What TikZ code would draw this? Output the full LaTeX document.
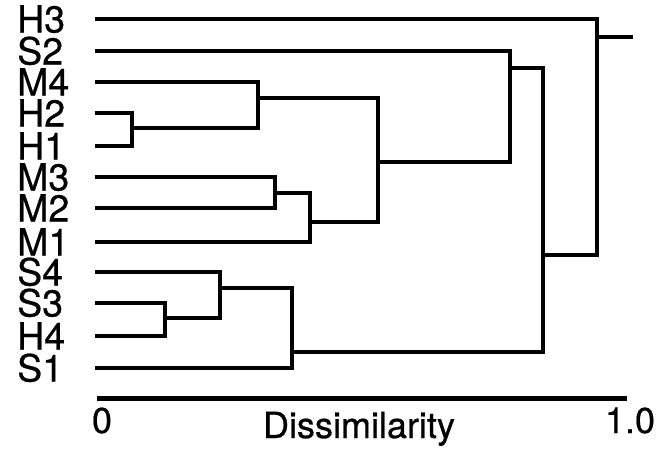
\documentclass[tikz,border=0pt]{standalone}
\usepackage{fontspec}
\setmainfont{TeX Gyre Heros}
\newfontfamily\heavysans{TeX Gyre Heros}[FakeBold=0.6]
\begin{document}
\begin{tikzpicture}[x=1pt,y=-1pt,
  branch/.style={line width=4.5pt,line join=miter,line cap=butt},
  leaflabel/.style={anchor=base west,inner sep=0pt,font=\heavysans\fontsize{37.5}{40}\selectfont},
  axislabel/.style={anchor=base,inner sep=0pt,font=\heavysans\fontsize{36}{38}\selectfont}]
\useasboundingbox (0,0) rectangle (663,451);

% leaf labels
\foreach \name/\row in {H3/19,S2/51,M4/82,H2/113,H1/146,M3/177,M2/208,M1/242,S4/272,S3/303,H4/336,S1/368}{
  \node[leaflabel] (t\name) at (17,\row+13.5) {\name};
  \coordinate (l\name) at (95,\row);
}

% merge points (x = merge height, y = outgoing branch)
\coordinate (nHH)  at (132,128);
\coordinate (nM4)  at (258,98);
\coordinate (nM32) at (275,193);
\coordinate (nM1)  at (310,222);
\coordinate (nA)   at (378,162);
\coordinate (nS2)  at (510,68);
\coordinate (nSH)  at (165,318);
\coordinate (nS4)  at (220,288);
\coordinate (nS1)  at (292,352);
\coordinate (nB)   at (543,255);
\coordinate (nR)   at (597,37);
\coordinate (rootend) at (633,37);

% dendrogram branches
\draw[branch] (lH2) -| (nHH) |- (lH1);
\draw[branch] (lM4) -| (nM4) |- (nHH);
\draw[branch] (lM3) -| (nM32) |- (lM2);
\draw[branch] (nM32) -| (nM1) |- (lM1);
\draw[branch] (nM4) -| (nA) |- (nM1);
\draw[branch] (lS2) -| (nS2) |- (nA);
\draw[branch] (lS3) -| (nSH) |- (lH4);
\draw[branch] (lS4) -| (nS4) |- (nSH);
\draw[branch] (nS4) -| (nS1) |- (lS1);
\draw[branch] (nS2) -| (nB) |- (nS1);
\draw[branch] (lH3) -| (nR) |- (nB);
\draw[branch] (nR) -- (rootend);

% dissimilarity axis
\coordinate (ax0) at (97,398);
\coordinate (ax1) at (627,398);
\draw[line width=5pt] (ax0) -- (ax1);
\node[axislabel] (zero) at (102,433) {0};
\node[axislabel] (one) at (630,433) {1.0};
\node[axislabel] (title) at (359,438) {Dissimilarity};
\end{tikzpicture}
\end{document}
